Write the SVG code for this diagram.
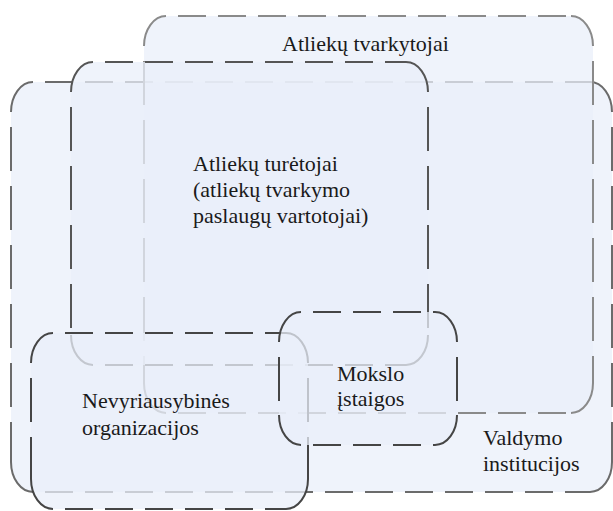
<svg xmlns="http://www.w3.org/2000/svg" width="613" height="511" viewBox="0 0 613 511">
<style>
.bg{fill:#e9eff9;fill-opacity:0.74;stroke:none}
.c{fill:none;stroke-width:2}
.h{fill:none;stroke-width:2;stroke-dasharray:28 12;stroke-dashoffset:28}
.v{fill:none;stroke-width:2;stroke-dasharray:44 15;stroke-dashoffset:44}
text{font-family:"Liberation Serif","Times New Roman",serif;font-size:22px;fill:#1a1a1a;stroke:none}
</style>
<rect width="613" height="511" fill="#ffffff"/>
<g id="valdymo" stroke="#6b6b6b">
<path class="bg" d="M33,82 H590 A22,30 0 0 1 612,112 V462 A22,30 0 0 1 590,492 H33 A22,30 0 0 1 11,462 V112 A22,30 0 0 1 33,82 Z"/>
<path class="c" d="M11,112 A22,30 0 0 1 33,82 M590,82 A22,30 0 0 1 612,112 M612,462 A22,30 0 0 1 590,492 M33,492 A22,30 0 0 1 11,462"/>
<path class="h" d="M33,82 H590 M33,492 H590"/>
<path class="v" d="M11,112 V462 M612,112 V462"/>
<text x="483" y="445">Valdymo</text>
<text x="483" y="471">institucijos</text>
</g>
<g id="tvarkytojai" stroke="#8a8a8a">
<path class="bg" d="M166,16 H571 A22,30 0 0 1 593,46 V383 A22,30 0 0 1 571,413 H166 A22,30 0 0 1 144,383 V46 A22,30 0 0 1 166,16 Z"/>
<path class="c" d="M144,46 A22,30 0 0 1 166,16 M571,16 A22,30 0 0 1 593,46 M593,383 A22,30 0 0 1 571,413 M166,413 A22,30 0 0 1 144,383"/>
<path class="h" d="M166,16 H571 M166,413 H571"/>
<path class="v" d="M144,46 V383 M593,46 V383"/>
<text x="282" y="51">Atliekų tvarkytojai</text>
</g>
<g id="turetojai" stroke="#555555">
<path class="bg" d="M93,62 H406 A22,30 0 0 1 428,92 V335 A22,30 0 0 1 406,365 H93 A22,30 0 0 1 71,335 V92 A22,30 0 0 1 93,62 Z"/>
<path class="c" d="M71,92 A22,30 0 0 1 93,62 M406,62 A22,30 0 0 1 428,92 M428,335 A22,30 0 0 1 406,365 M93,365 A22,30 0 0 1 71,335"/>
<path class="h" d="M93,62 H406 M93,365 H406"/>
<path class="v" d="M71,92 V335 M428,92 V335"/>
<text x="193" y="171">Atliekų turėtojai</text>
<text x="193" y="197">(atliekų tvarkymo</text>
<text x="193" y="223">paslaugų vartotojai)</text>
</g>
<g id="nevyriausybines" stroke="#454545">
<path class="bg" d="M53,333 H286 A22,30 0 0 1 308,363 V479 A22,30 0 0 1 286,509 H53 A22,30 0 0 1 31,479 V363 A22,30 0 0 1 53,333 Z"/>
<path class="c" d="M31,363 A22,30 0 0 1 53,333 M286,333 A22,30 0 0 1 308,363 M308,479 A22,30 0 0 1 286,509 M53,509 A22,30 0 0 1 31,479"/>
<path class="h" d="M53,333 H286 M53,509 H286"/>
<path class="v" d="M31,363 V479 M308,363 V479"/>
<text x="82" y="408">Nevyriausybinės</text>
<text x="82" y="435">organizacijos</text>
</g>
<g id="mokslo" stroke="#454545">
<path class="bg" d="M301,312 H435 A22,30 0 0 1 457,342 V415 A22,30 0 0 1 435,445 H301 A22,30 0 0 1 279,415 V342 A22,30 0 0 1 301,312 Z"/>
<path class="c" d="M279,342 A22,30 0 0 1 301,312 M435,312 A22,30 0 0 1 457,342 M457,415 A22,30 0 0 1 435,445 M301,445 A22,30 0 0 1 279,415"/>
<path class="h" d="M301,312 H435 M301,445 H435"/>
<path class="v" d="M279,342 V415 M457,342 V415"/>
<text x="337" y="381">Mokslo</text>
<text x="337" y="406">įstaigos</text>
</g>
<g id="connectors"/>
</svg>
